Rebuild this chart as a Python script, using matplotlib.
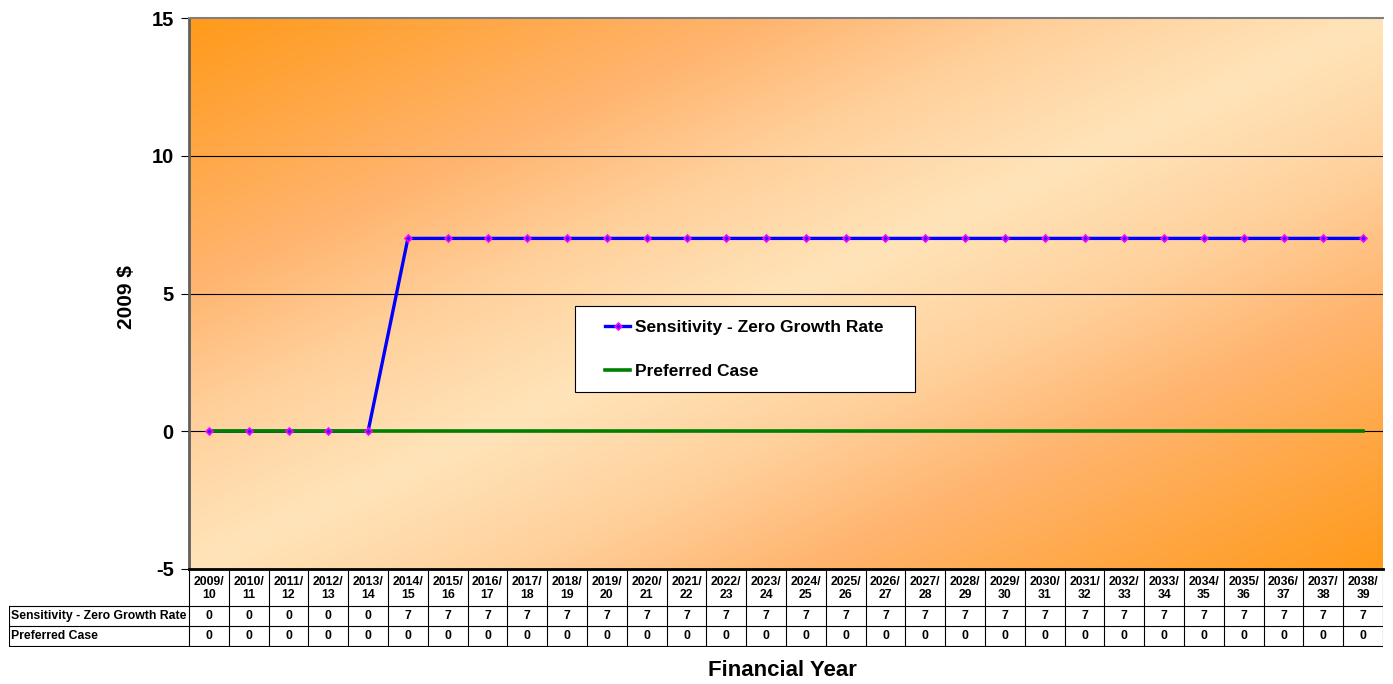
import numpy as np
import matplotlib.pyplot as plt
from matplotlib.colors import LinearSegmentedColormap
from matplotlib.patches import Rectangle

plt.rcParams["font.family"] = ["Liberation Sans", "DejaVu Sans"]
plt.rcParams["font.weight"] = "bold"
plt.rcParams["axes.unicode_minus"] = False

years = [f"{y}/\n{(y + 1) % 100:02d}" for y in range(2009, 2039)]
sensitivity = [0, 0, 0, 0, 0] + [7] * 25
preferred = [0] * 30
series_names = ["Sensitivity - Zero Growth Rate", "Preferred Case"]

W, H = 1393, 684
fig = plt.figure(figsize=(W / 100, H / 100), dpi=100)

# plot area in pixel coords
px_l, px_r, px_t, px_b = 189, 1383, 18, 569
ax = fig.add_axes([px_l / W, 1 - px_b / H, (px_r - px_l) / W, (px_b - px_t) / H])

n = len(years)
x = np.arange(n)
ax.set_xlim(-0.5, n - 0.5)
ax.set_ylim(-5, 15)

# diagonal two-tone background
gx, gy = np.meshgrid(np.linspace(0, 1, 300), np.linspace(1, 0, 300))
t = np.abs(gx - gy)
cmap = LinearSegmentedColormap.from_list(
    "bg", [(0.0, "#FFE4B9"), (0.27, "#FFD09B"), (0.52, "#FFB46E"), (1.0, "#FF9A1A")])
ax.imshow(t, cmap=cmap, extent=[0, 1, 0, 1], transform=ax.transAxes,
          aspect="auto", zorder=0, interpolation="bilinear")

for yv in [0, 5, 10]:
    ax.axhline(yv, color="black", lw=0.8, zorder=1)

ax.plot(x, sensitivity, color="#0000FF", lw=2.4, zorder=3)
ax.plot(x, preferred, color="#008000", lw=2.6, zorder=4)
ax.plot(x, sensitivity, ls="none", marker="D", ms=3.5, mfc="#2020FF",
        mec="#FF00FF", mew=1.2, zorder=5)

ax.set_yticks([-5, 0, 5, 10, 15])
ax.tick_params(axis="y", length=6, width=0.8, labelsize=14.5, pad=5)
ax.set_xticks([])
for lab in ax.get_yticklabels():
    lab.set_fontweight("bold")
ax.spines["right"].set_visible(False)
ax.spines["top"].set_color("#808080")
ax.spines["top"].set_linewidth(1.5)
ax.spines["left"].set_color("#606060")
ax.spines["left"].set_linewidth(2)
ax.spines["bottom"].set_color("black")
ax.spines["bottom"].set_linewidth(2)

fig.text(127 / W, 1 - 297 / H, "2009 $", rotation=90, ha="center", va="center",
         fontsize=15, fontweight="bold")
fig.text(782 / W, 1 - 670 / H, "Financial Year", ha="center", va="center",
         fontsize=16, fontweight="bold")

# legend: white box plus frameless legend entries
fig.patches.append(Rectangle((575 / W, 1 - 392 / H), 340 / W, 86 / H,
                             transform=fig.transFigure, facecolor="white",
                             edgecolor="black", lw=0.8, zorder=5))
h1, = ax.plot([], [], color="#0000FF", lw=2.4, marker="D", ms=3.5,
              mfc="#2020FF", mec="#FF00FF", mew=1.2)
h2, = ax.plot([], [], color="#008000", lw=2.6)
leg = fig.legend([h1, h2], series_names, loc="center left",
                 bbox_to_anchor=(605 / W, 1 - 349.5 / H),
                 prop={"size": 12.5, "weight": "bold"}, frameon=False,
                 handlelength=1.45, handletextpad=0.3, labelspacing=1.65,
                 borderpad=0, borderaxespad=0)
leg.set_zorder(6)

# data table below the plot
cw = (px_r - px_l) / n
tab_l = 9
ax_t = fig.add_axes([tab_l / W, 1 - 647 / H, (px_r - tab_l) / W, (647 - 570) / H])
ax_t.set_xlim(-0.5 - (px_l - tab_l) / cw, n - 0.5)
ax_t.set_ylim(647, 570)
ax_t.axis("off")
x_lab = -0.5 - (px_l - tab_l) / cw
rows_y = [(606, 626), (626, 646)]
for xb in np.arange(n + 1) - 0.5:
    ax_t.plot([xb, xb], [571, 646], color="black", lw=0.8)
for yb in [606, 626, 646]:
    ax_t.plot([x_lab, n - 0.5], [yb, yb], color="black", lw=0.8)
ax_t.plot([x_lab, x_lab], [606, 646], color="black", lw=0.8)
for i, lab in enumerate(years):
    ax_t.text(i, 588.5, lab, ha="center", va="center", fontsize=8.8,
              fontweight="bold", linespacing=1.15)
for (y0, y1), name, vals in zip(rows_y, series_names, [sensitivity, preferred]):
    ym = (y0 + y1) / 2
    ax_t.text(x_lab + 0.04, ym, name, ha="left", va="center", fontsize=8.8,
              fontweight="bold")
    for i, v in enumerate(vals):
        ax_t.text(i, ym, f"{v}", ha="center", va="center", fontsize=8.8,
                  fontweight="bold")

fig.savefig("out.png", dpi=100)
